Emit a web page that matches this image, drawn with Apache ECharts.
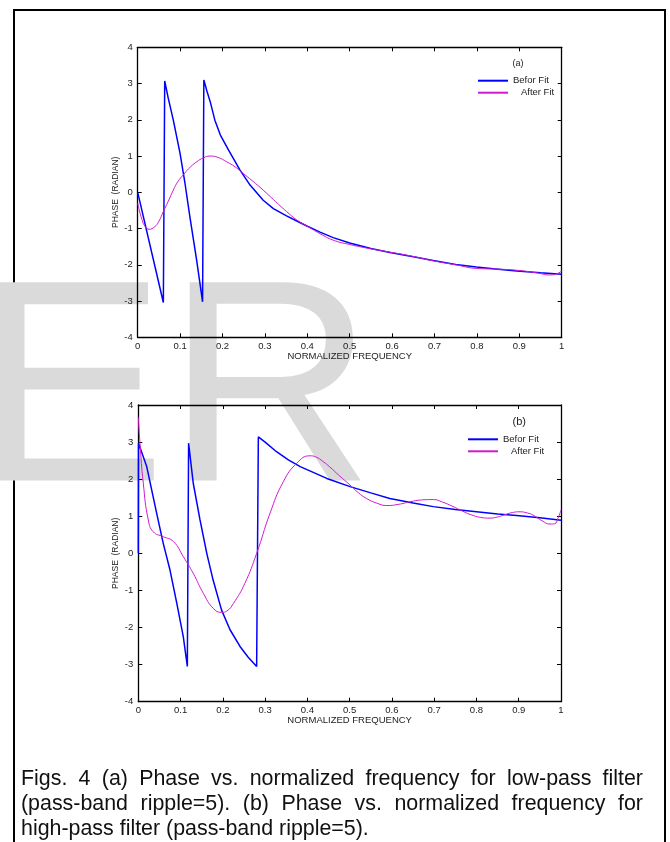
<!DOCTYPE html>
<html>
<head>
<meta charset="utf-8">
<script src="https://cdn.jsdelivr.net/npm/echarts@6/dist/echarts.min.js"></script>
<style>
  html, body { margin: 0; padding: 0; background: #fff; }
  #chart { position: absolute; left: 0; top: 0; width: 670px; height: 842px; }
  .frame {
    position: absolute; left: 13px; top: 9px; width: 649px; height: 900px;
    border: 2px solid #000; box-sizing: content-box;
  }
  .caption {
    position: absolute; left: 21px; top: 766px; width: 622px;
    font-family: 'Liberation Sans', Arial, sans-serif; font-size: 21.4px; line-height: 25px;
    color: #111;
  }
  .caption .j { text-align: justify; text-align-last: justify; }
</style>
</head>
<body>
<div class="frame"></div>
<div id="chart"></div>
<div class="caption">
  <div class="j">Figs. 4 (a) Phase vs. normalized frequency for low-pass filter</div>
  <div class="j">(pass-band ripple=5). (b) Phase vs. normalized frequency for</div>
  <div>high-pass filter (pass-band ripple=5).</div>
</div>
<script>
// (a) low-pass, before fit
const freqA_before = [0, 0.0605, 0.0637, 0.072, 0.084, 0.0998, 0.1115, 0.123, 0.139, 0.153, 0.156, 0.163, 0.171, 0.182, 0.195, 0.214, 0.241, 0.265, 0.296, 0.32, 0.351, 0.38, 0.399, 0.43, 0.461, 0.5, 0.55, 0.595, 0.65, 0.697, 0.75, 0.799, 0.85, 0.894, 0.95, 1.0]
const phaseA_before = [0, -3.04, 3.07, 2.6, 1.99, 1.08, 0.25, -0.67, -1.87, -3.02, 3.10, 2.8, 2.5, 1.99, 1.58, 1.17, 0.62, 0.2, -0.22, -0.45, -0.65, -0.82, -0.93, -1.1, -1.25, -1.40, -1.55, -1.66, -1.78, -1.88, -1.99, -2.06, -2.12, -2.17, -2.22, -2.26]
// (a) low-pass, after fit
const freqA_after = [0, 0.01, 0.018, 0.027, 0.04, 0.05, 0.0605, 0.072, 0.084, 0.095, 0.1076, 0.12, 0.139, 0.155, 0.1706, 0.19, 0.21, 0.23, 0.249, 0.27, 0.296, 0.32, 0.351, 0.375, 0.399, 0.43, 0.461, 0.5, 0.55, 0.595, 0.65, 0.697, 0.75, 0.799, 0.85, 0.894, 0.94, 0.973, 0.99, 1.0]
const phaseA_after = [-0.30, -0.75, -0.95, -1.02, -0.95, -0.8, -0.53, -0.25, 0.06, 0.3, 0.48, 0.65, 0.84, 0.95, 1.0, 0.96, 0.84, 0.7, 0.52, 0.32, 0.06, -0.2, -0.53, -0.76, -0.93, -1.14, -1.32, -1.44, -1.56, -1.65, -1.77, -1.89, -2.0, -2.1, -2.12, -2.15, -2.22, -2.28, -2.24, -2.17]
// (b) high-pass, before fit
const freqB_before = [0, 0.0005, 0.0024, 0.0199, 0.0435, 0.059, 0.075, 0.091, 0.1065, 0.116, 0.119, 0.13, 0.146, 0.162, 0.177, 0.197, 0.217, 0.2406, 0.26, 0.28, 0.284, 0.3, 0.327, 0.355, 0.383, 0.446, 0.501, 0.55, 0.595, 0.65, 0.698, 0.75, 0.8, 0.85, 0.895, 0.95, 1.0]
const phaseB_before = [0, 2.97, 2.97, 2.34, 1.08, 0.27, -0.45, -1.34, -2.25, -3.05, 2.97, 1.89, 0.90, 0.0, -0.72, -1.53, -2.06, -2.51, -2.8, -3.05, 3.14, 3.0, 2.74, 2.52, 2.34, 2.02, 1.80, 1.63, 1.48, 1.36, 1.26, 1.18, 1.12, 1.06, 1.02, 0.96, 0.89]
// (b) high-pass, after fit
const freqB_after = [0, 0.004, 0.0118, 0.0237, 0.0355, 0.059, 0.083, 0.1065, 0.13, 0.154, 0.177, 0.197, 0.21, 0.225, 0.252, 0.28, 0.3116, 0.343, 0.375, 0.406, 0.42, 0.4377, 0.453, 0.475, 0.501, 0.52, 0.54, 0.565, 0.588, 0.615, 0.643, 0.67, 0.698, 0.72, 0.745, 0.765, 0.785, 0.81, 0.832, 0.85, 0.864, 0.885, 0.903, 0.92, 0.934, 0.955, 0.974, 0.985, 0.993, 1.0]
const phaseB_after = [3.68, 2.97, 1.89, 0.90, 0.58, 0.45, 0.32, -0.09, -0.54, -1.08, -1.48, -1.59, -1.55, -1.35, -0.81, 0.0, 1.08, 1.93, 2.43, 2.63, 2.6, 2.47, 2.33, 2.1, 1.84, 1.64, 1.48, 1.35, 1.29, 1.32, 1.39, 1.44, 1.45, 1.38, 1.26, 1.15, 1.05, 0.97, 0.95, 0.98, 1.03, 1.1, 1.12, 1.09, 1.03, 0.88, 0.79, 0.8, 0.95, 1.17]

const xTicks = { min: 0, max: 1, interval: 0.1 }
const yTicks = { min: -4, max: 4, interval: 1 }
const seriesNames = ['Befor Fit', 'After Fit']
const panelLabels = ['(a)', '(b)']

const font = "'Liberation Sans', Arial, sans-serif"
const zip = (xs, ys) => xs.map((x, i) => [x, ys[i]])

const chart = echarts.init(document.getElementById('chart'), null, { renderer: 'canvas' })

const grids = [
  { left: 137.7, top: 47.3, width: 424, height: 290 },
  { left: 138.3, top: 405, width: 422.7, height: 296.7 }
]

let xAxis = []
let yAxis = []
grids.forEach((g, gi) => {
  // bottom + top x axes, left + right y axes (box with inward ticks)
  ;['bottom', 'top'].forEach(pos => {
    xAxis.push({
      type: 'value',
      gridIndex: gi,
      position: pos,
      min: xTicks.min,
      max: xTicks.max,
      interval: xTicks.interval,
      name: pos === 'bottom' ? 'NORMALIZED FREQUENCY' : '',
      nameLocation: 'middle',
      nameGap: gi === 0 ? 14.5 : 13.5,
      nameMoveOverlap: false,
      nameTextStyle: { fontFamily: font, fontSize: 9.5, color: '#222' },
      splitLine: { show: false },
      axisLine: { show: true, onZero: false, lineStyle: { color: '#000', width: 1.3 } },
      axisTick: { show: true, inside: true, length: 4, lineStyle: { color: '#000' } },
      axisLabel: {
        show: pos === 'bottom',
        margin: 4,
        fontFamily: font,
        fontSize: 9.5,
        color: '#222',
        formatter: v => String(+v.toFixed(1))
      }
    })
  })
  ;['left', 'right'].forEach(pos => {
    yAxis.push({
      type: 'value',
      gridIndex: gi,
      position: pos,
      min: yTicks.min,
      max: yTicks.max,
      interval: yTicks.interval,
      name: pos === 'left' ? 'PHASE  (RADIAN)' : '',
      nameLocation: 'middle',
      nameGap: 18,
      nameMoveOverlap: false,
      nameTextStyle: { fontFamily: font, fontSize: 8.5, color: '#222' },
      splitLine: { show: false },
      axisLine: { show: true, onZero: false, lineStyle: { color: '#000', width: 1.3 } },
      axisTick: { show: true, inside: true, length: 4, lineStyle: { color: '#000' } },
      axisLabel: { show: pos === 'left', margin: 5, fontFamily: font, fontSize: 9.5, color: '#222' }
    })
  })
})

const lineSeries = (name, data, gi, color, width, smooth) => ({
  name,
  type: 'line',
  xAxisIndex: gi * 2,
  yAxisIndex: gi * 2,
  data,
  symbol: 'none',
  smooth: smooth ? 0.5 : false,
  lineStyle: { color, width },
  itemStyle: { color },
  animation: false
})

const legendOf = (left, top) => ({
  orient: 'vertical',
  left,
  top,
  icon: 'rect',
  itemWidth: 30,
  itemHeight: 2,
  itemGap: 2,
  data: seriesNames,
  selectedMode: false,
  formatter: name => name === 'After Fit' ? '   After Fit' : name,
  textStyle: { fontFamily: font, fontSize: 9.5, color: '#222', lineHeight: 10 }
})

const option = {
  animation: false,
  grid: grids,
  xAxis,
  yAxis,
  legend: [legendOf(473, 70.7), legendOf(463, 429.3)],
  graphic: [
    { // faint watermark behind the plots
      type: 'text', left: -26, top: 257, z: -10, silent: true,
      style: { text: 'ER', fontFamily: font, fontSize: 288, fill: '#dadada' }
    },
    {
      type: 'text', x: 518, y: 64, z: 10,
      style: { text: panelLabels[0], fontFamily: font, fontSize: 9, fill: '#222', align: 'center', verticalAlign: 'middle' }
    },
    {
      type: 'text', x: 519.3, y: 421.7, z: 10,
      style: { text: panelLabels[1], fontFamily: font, fontSize: 11, fill: '#222', align: 'center', verticalAlign: 'middle' }
    }
  ],
  series: [
    lineSeries(seriesNames[0], zip(freqA_before, phaseA_before), 0, '#0000ff', 1.5, false),
    lineSeries(seriesNames[1], zip(freqA_after, phaseA_after), 0, '#d01ad0', 1, true),
    lineSeries(seriesNames[0], zip(freqB_before, phaseB_before), 1, '#0000ff', 1.5, false),
    lineSeries(seriesNames[1], zip(freqB_after, phaseB_after), 1, '#d01ad0', 1, true)
  ]
}

chart.setOption(option)
</script>
</body>
</html>
